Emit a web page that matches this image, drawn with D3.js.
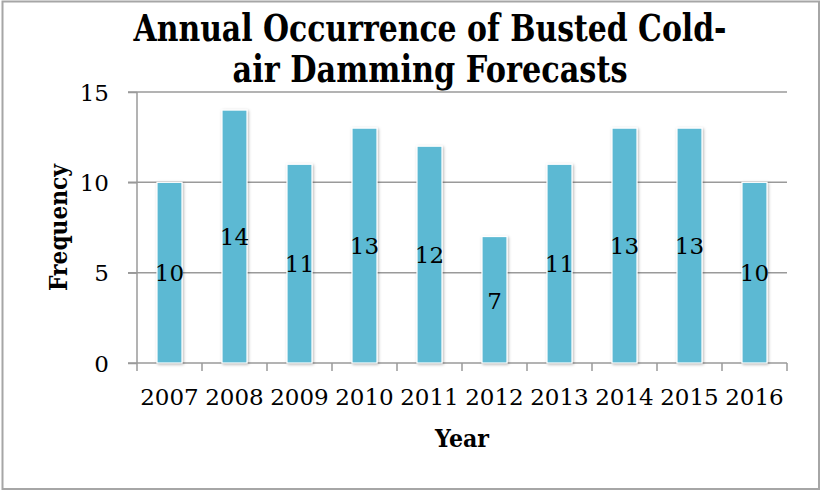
<!DOCTYPE html>
<html>
<head>
<meta charset="utf-8">
<script src="https://cdn.jsdelivr.net/npm/d3@7"></script>
<style>
  html, body { margin: 0; padding: 0; background: #fff; }
  svg { display: block; }
  text { font-family: "DejaVu Serif", "Liberation Serif", serif; fill: #000; }
</style>
</head>
<body>
<svg id="chart" width="821" height="490"></svg>
<script>
// Busted cold-air damming forecasts per year
const years = ["2007", "2008", "2009", "2010", "2011", "2012", "2013", "2014", "2015", "2016"];
const frequency = [10, 14, 11, 13, 12, 7, 11, 13, 13, 10];
const yTicks = [0, 5, 10, 15];
const titleLines = ["Annual Occurrence of Busted Cold-", "air Damming Forecasts"];

const svg = d3.select("#chart");
const W = 821, H = 490;
const plot = { left: 137, right: 787, top: 92, bottom: 363 };
const numFont = 23;

// outer frame
svg.append("rect")
  .attr("x", 2.5).attr("y", 1.5)
  .attr("width", W - 4.5).attr("height", H - 2.5)
  .attr("fill", "#fff").attr("stroke", "#a6a6a6").attr("stroke-width", 2);

const defs = svg.append("defs");
const f = defs.append("filter").attr("id", "barShadow")
  .attr("x", "-30%").attr("y", "-10%").attr("width", "160%").attr("height", "120%");
f.append("feDropShadow").attr("dx", 1).attr("dy", 1)
  .attr("stdDeviation", 1.6).attr("flood-color", "#000").attr("flood-opacity", 0.3);

const x = d3.scaleBand().domain(years).range([plot.left, plot.right]).paddingInner(0).paddingOuter(0);
const y = d3.scaleLinear().domain([0, 15]).range([plot.bottom, plot.top]);

// horizontal gridlines with left tick stubs
svg.append("g")
  .selectAll("line")
  .data(yTicks.filter(t => t > 0))
  .join("line")
  .attr("x1", plot.left - 9).attr("x2", plot.right)
  .attr("y1", d => y(d)).attr("y2", d => y(d))
  .attr("stroke", "#9a9a9a").attr("stroke-width", 1.5);

// y axis
const yAxis = d3.axisLeft(y).tickValues(yTicks).tickSize(9).tickPadding(19).tickFormat(d3.format("d"));
const gy = svg.append("g").attr("transform", `translate(${plot.left},0)`).call(yAxis);
gy.select(".domain").attr("stroke", "#9a9a9a").attr("stroke-width", 1.5)
  .attr("d", `M0,${plot.top}V${plot.bottom}`);
gy.selectAll(".tick line").attr("stroke", "#9a9a9a").attr("stroke-width", 1.5);
gy.selectAll(".tick text")
  .attr("font-family", "DejaVu Serif, serif").attr("font-size", numFont).attr("fill", "#000")
  .attr("dy", "0.36em");

// x axis: ticks at category boundaries
const gx = svg.append("g").attr("transform", `translate(0,${plot.bottom})`);
gx.append("line")
  .attr("x1", plot.left - 9).attr("x2", plot.right)
  .attr("y1", 0).attr("y2", 0)
  .attr("stroke", "#9a9a9a").attr("stroke-width", 1.5);
const bounds = years.map(d => x(d)).concat([plot.right]);
gx.selectAll("line.tk").data(bounds).join("line").attr("class", "tk")
  .attr("x1", d => d).attr("x2", d => d).attr("y1", 0).attr("y2", 8)
  .attr("stroke", "#9a9a9a").attr("stroke-width", 1.5);
gx.selectAll("text").data(years).join("text")
  .attr("x", d => x(d) + x.bandwidth() / 2)
  .attr("y", 42)
  .attr("text-anchor", "middle")
  .attr("font-size", numFont)
  .text(d => d);

// bars
const barW = 25;
const data = years.map((yr, i) => ({ year: yr, value: frequency[i] }));
svg.append("g").selectAll("rect").data(data).join("rect")
  .attr("x", d => x(d.year) + x.bandwidth() / 2 - barW / 2)
  .attr("y", d => y(d.value))
  .attr("width", barW)
  .attr("height", d => y(0) - y(d.value))
  .attr("fill", "#5bb9d3")
  .attr("stroke", "#ffffff").attr("stroke-width", 1.2)
  .attr("filter", "url(#barShadow)");

// value labels at bar mid-height
svg.append("g").selectAll("text").data(data).join("text")
  .attr("x", d => x(d.year) + x.bandwidth() / 2)
  .attr("y", d => (y(d.value) + y(0)) / 2)
  .attr("dy", "0.38em")
  .attr("text-anchor", "middle")
  .attr("font-size", numFont)
  .text(d => d.value);

// title: condensed, tall bold lettering
const titleWidths = [593, 395];
const titleScaleY = 1.3;
titleLines.forEach((t, i) => {
  svg.append("g")
    .attr("transform", `translate(430,${41 + i * 41}) scale(1,${titleScaleY})`)
    .append("text")
    .attr("x", 0).attr("y", 0)
    .attr("text-anchor", "middle")
    .attr("font-size", 28)
    .attr("font-weight", "bold")
    .attr("textLength", titleWidths[i])
    .attr("lengthAdjust", "spacingAndGlyphs")
    .text(t);
});

// axis titles
svg.append("text")
  .attr("transform", `translate(67,${(plot.top + plot.bottom) / 2}) rotate(-90)`)
  .attr("text-anchor", "middle")
  .attr("font-size", 24).attr("font-weight", "bold")
  .attr("textLength", 127).attr("lengthAdjust", "spacingAndGlyphs")
  .text("Frequency");

svg.append("text")
  .attr("x", (plot.left + plot.right) / 2).attr("y", 447)
  .attr("text-anchor", "middle")
  .attr("font-size", 24).attr("font-weight", "bold")
  .attr("textLength", 54).attr("lengthAdjust", "spacingAndGlyphs")
  .text("Year");
</script>
</body>
</html>
